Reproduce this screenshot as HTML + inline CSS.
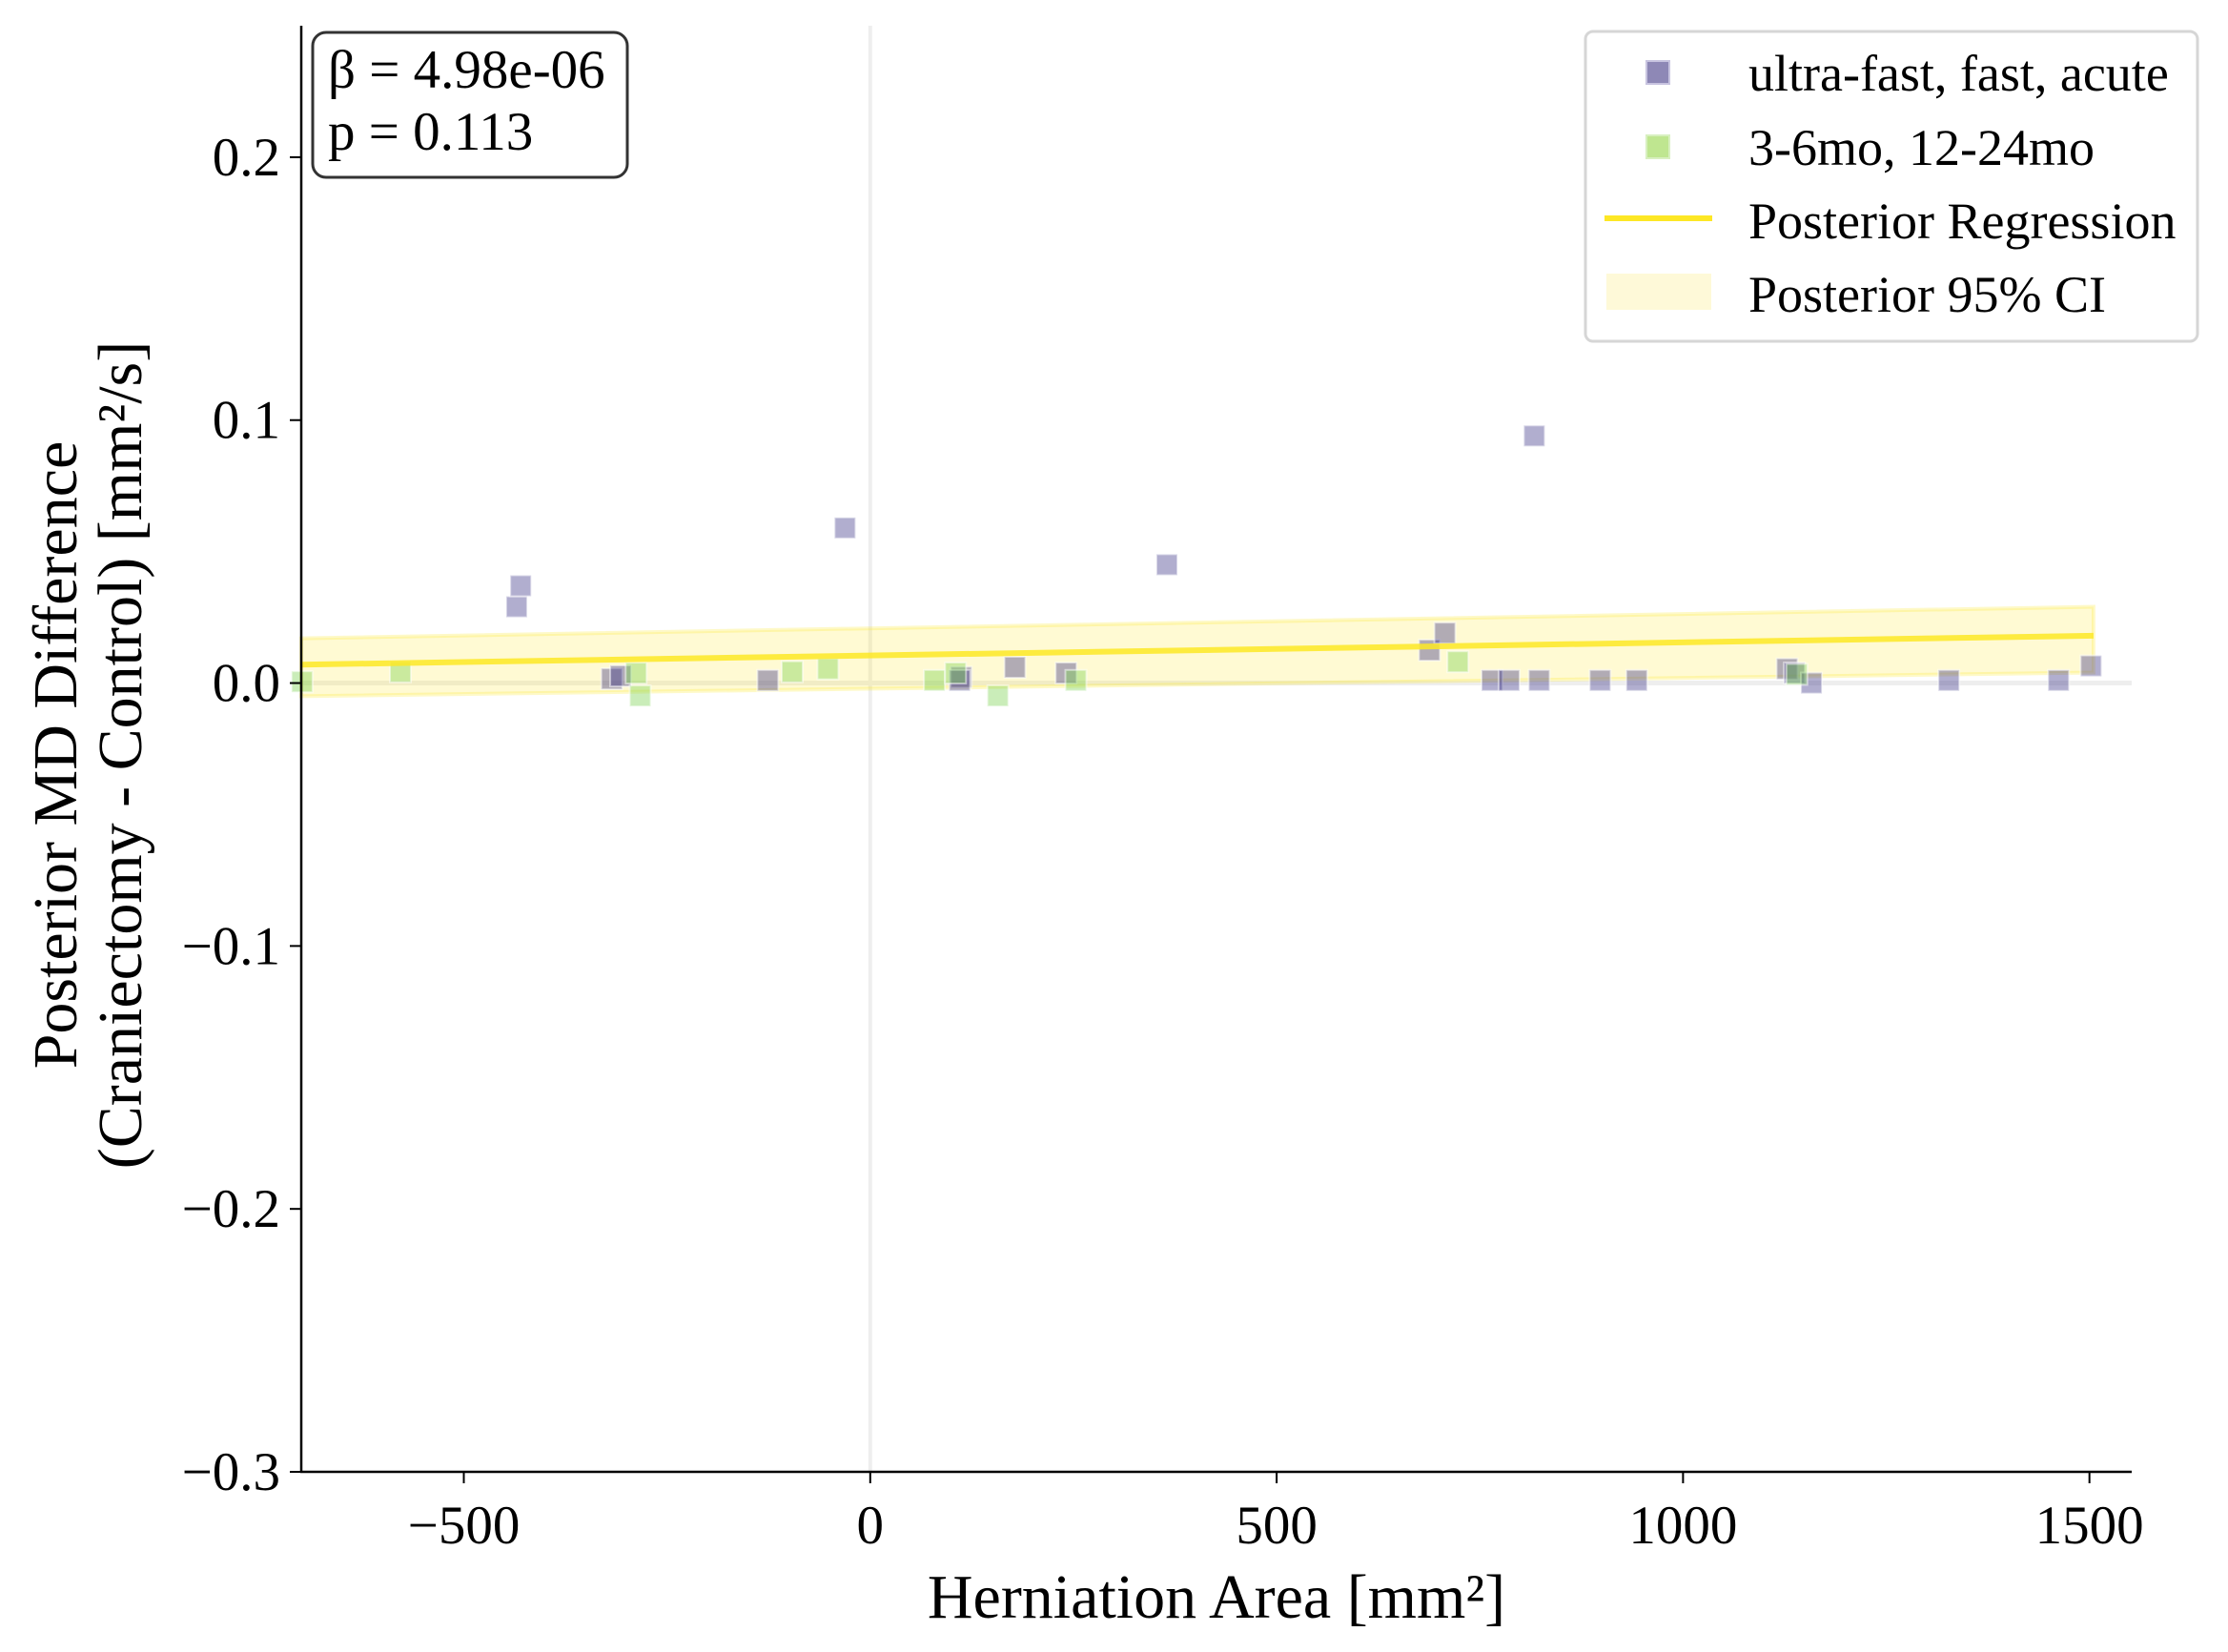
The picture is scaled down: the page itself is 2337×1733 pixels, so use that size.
<!DOCTYPE html>
<html><head><meta charset="utf-8"><style>
html,body{margin:0;padding:0;background:#fff}
svg{display:block;font-family:"Liberation Serif",serif}
</style></head><body>
<svg id="chart" width="2337" height="1733" viewBox="0 0 2337 1733" xmlns="http://www.w3.org/2000/svg">
<g id="plot"></g>
<g id="axes"></g>
<g>
<rect x="328" y="34" width="330" height="152" rx="14" fill="#fff" stroke="#333" stroke-width="3"/>
<text x="344" y="92" font-size="57">β = 4.98e-06</text>
<text x="344" y="157" font-size="57">p = 0.113</text>
</g>
<g>
<rect x="1663" y="33" width="642" height="325" rx="8" fill="#fff" stroke="#d6d6d6" stroke-width="3"/>
<g><rect x="1727" y="64" width="24" height="24" fill="#8e88b6" stroke="#c8c4e0" stroke-width="2"/><text x="1834" y="95" font-size="54">ultra-fast, fast, acute</text></g>
<g><rect x="1727" y="142" width="24" height="24" fill="#bfe690" stroke="#d8f0c0" stroke-width="2"/><text x="1834" y="173" font-size="54">3-6mo, 12-24mo</text></g>
<g><line x1="1683" y1="229" x2="1796" y2="229" stroke="#fde725" stroke-width="6"/><text x="1834" y="250" font-size="54">Posterior Regression</text></g>
<g><rect x="1685" y="287" width="110" height="38" fill="#fef9d8"/><text x="1834" y="327" font-size="54">Posterior 95% CI</text></g>
</g>
<text x="1276" y="1697" font-size="66" text-anchor="middle">Herniation Area [mm²]</text>
<g transform="translate(0,792) rotate(-90)" font-size="66" text-anchor="middle">
<text x="0" y="80">Posterior MD Difference</text>
<text x="0" y="148">(Craniectomy - Control) [mm²/s]</text>
</g>
</svg>
<script>
const acuteX=[-435,-430,-31,365,817,-318,-307,-126,112,110,178,241,688,707,765,786,823,898,943,1128,1137,1158,1327,1462,1502];
const acuteY=[0.029,0.037,0.059,0.045,0.094,0.0016,0.0027,0.001,0.0022,0.001,0.006,0.0038,0.0125,0.019,0.001,0.001,0.001,0.001,0.001,0.0054,0.0038,0,0.001,0.001,0.0065];
const chronicX=[-699,-578,-288,-283,-96,-52,79,105,157,253,723,1140];
const chronicY=[0.0005,0.0043,0.0038,-0.0049,0.0043,0.0054,0.001,0.0038,-0.0049,0.001,0.0081,0.0033];
const lineX=[-700,1505];
const lineY=[0.007,0.018];
const ciUpper=[0.017,0.029];
const ciLower=[-0.005,0.004];
const xTicks=[-500,0,500,1000,1500];
const xTickLabels=["\u2212500","0","500","1000","1500"];
const yTicks=[0.2,0.1,0,-0.1,-0.2,-0.3];
const yTickLabels=["0.2","0.1","0.0","\u22120.1","\u22120.2","\u22120.3"];

const X0=316,X1=2236,XMIN=-700,XMAX=1552,YTOP=27,YBOT=1544,YMIN=-0.3,YMAX=0.25;
const sx=v=>X0+(v-XMIN)/(XMAX-XMIN)*(X1-X0);
const sy=v=>YBOT-(v-YMIN)/(YMAX-YMIN)*(YBOT-YTOP);
const NS="http://www.w3.org/2000/svg";
function mk(tag,attrs,parent){const e=document.createElementNS(NS,tag);for(const k in attrs)e.setAttribute(k,attrs[k]);parent.appendChild(e);return e;}
const plot=document.getElementById('plot'),axes=document.getElementById('axes');

let e=mk('line',{x1:sx(0),x2:sx(0),y1:YTOP,y2:YBOT,stroke:'#eeeeee','stroke-width':4},plot);


e=mk('line',{x1:X0,x2:X1,y1:sy(0),y2:sy(0),stroke:'#eeeeee','stroke-width':5},plot);



const pts=[sx(lineX[0])+','+sy(ciUpper[0]),sx(lineX[1])+','+sy(ciUpper[1]),sx(lineX[1])+','+sy(ciLower[1]),sx(lineX[0])+','+sy(ciLower[0])].join(' ');
e=mk('polygon',{points:pts,fill:'#fde725','fill-opacity':0.2,stroke:'#fde725','stroke-opacity':0.25,'stroke-width':4},plot);



function drawPts(xs,ys,fill,stroke,name){
  xs.forEach((v,i)=>{
    const r=mk('rect',{x:sx(v)-11,y:sy(ys[i])-11,width:22,height:22,fill:fill,'fill-opacity':0.4,stroke:stroke,'stroke-opacity':0.5,'stroke-width':2},plot);
    
    
  });
}
drawPts(acuteX,acuteY,'#3b3488','#ffffff','point-acute');
drawPts(chronicX,chronicY,'#7ad151','#ffffff','point-chronic');

e=mk('line',{x1:sx(lineX[0]),y1:sy(lineY[0]),x2:sx(lineX[1]),y2:sy(lineY[1]),stroke:'#fde725','stroke-width':6,'stroke-opacity':0.85},plot);



e=mk('line',{x1:X0,x2:X0,y1:YTOP,y2:YBOT+1,stroke:'#000','stroke-width':2.5},axes);


e=mk('line',{x1:X0-1,x2:X1,y1:YBOT,y2:YBOT,stroke:'#000','stroke-width':2.5},axes);



xTicks.forEach((v,i)=>{
  const t=mk('line',{x1:sx(v),x2:sx(v),y1:YBOT,y2:YBOT+12,stroke:'#000','stroke-width':2},axes);
  
  
  const l=mk('text',{x:sx(v),y:YBOT+75,'font-size':57,'text-anchor':'middle'},axes);
  l.textContent=xTickLabels[i];
  
  
});
yTicks.forEach((v,i)=>{
  const t=mk('line',{x1:X0-12,x2:X0,y1:sy(v),y2:sy(v),stroke:'#000','stroke-width':2},axes);
  
  
  const l=mk('text',{x:X0-22,y:sy(v)+19,'font-size':57,'text-anchor':'end'},axes);
  l.textContent=yTickLabels[i];
  
  
});
</script>
</body></html>
